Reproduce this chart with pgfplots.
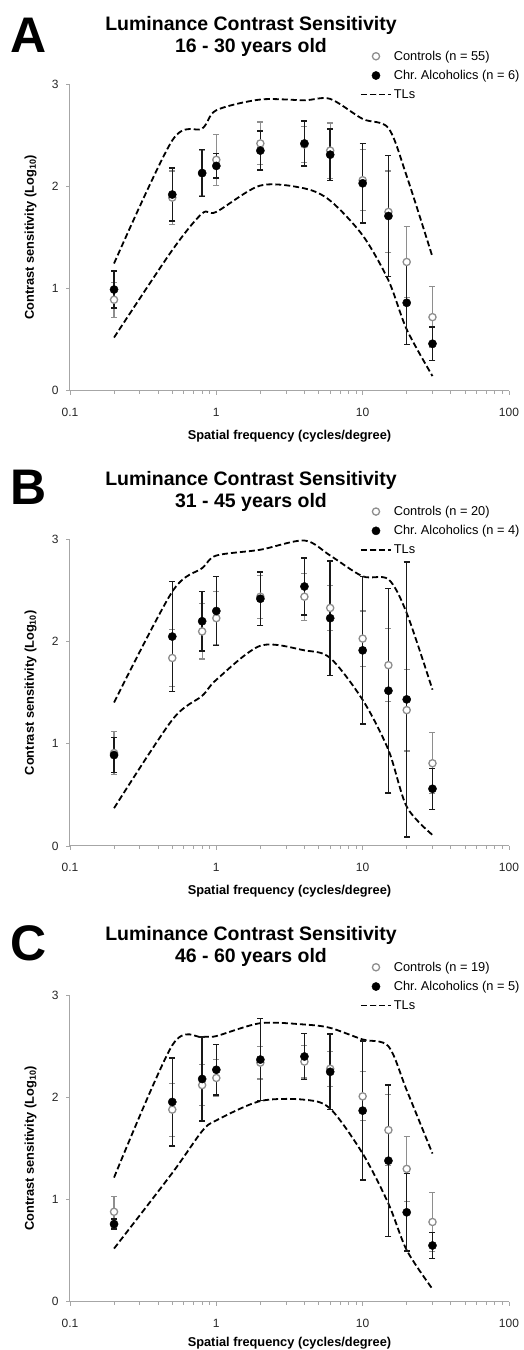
\documentclass[border=0pt]{standalone}
\usepackage{fontspec}
\setmainfont{Liberation Sans}
\usepackage{pgfplots}
\usepackage{pgfplotstable}
\pgfplotsset{compat=1.18}

\definecolor{ctrlgray}{HTML}{8E8E8E}
\definecolor{axgray}{HTML}{A6A6A6}

\pgfplotstableread{
x c ce a ae up lo
0.2 0.89 0.17 0.99 0.18 1.245 0.52
0.5 1.89 0.26 1.92 0.26 2.45 1.376
0.8 2.13 0.22 2.13 0.23 2.566 1.735
1 2.26 0.25 2.20 0.12 2.745 1.75
2 2.42 0.21 2.35 0.19 2.85 2.008
4 2.41 0.18 2.42 0.22 2.843 1.98
6 2.35 0.27 2.31 0.25 2.856 1.86
10 2.06 0.30 2.03 0.39 2.66 1.52
15 1.75 0.40 1.71 0.59 2.57 1.08
20 1.26 0.35 0.86 0.41 2.1 0.6
30 0.72 0.30 0.46 0.165 1.31 0.143
}\dataA

\pgfplotstableread{
x c ce a ae up lo
0.2 0.91 0.21 0.89 0.17 1.405 0.37
0.5 1.84 0.28 2.05 0.54 2.49 1.235
0.8 2.10 0.27 2.20 0.29 2.72 1.47
1 2.23 0.26 2.30 0.34 2.843 1.627
2 2.44 0.21 2.42 0.26 2.90 1.96
4 2.44 0.23 2.54 0.28 2.99 1.915
6 2.33 0.22 2.23 0.56 2.843 1.84
10 2.03 0.27 1.915 0.72 2.64 1.43
15 1.77 0.36 1.52 1.0 2.61 0.94
20 1.33 0.40 1.435 1.345 2.28 0.385
30 0.81 0.30 0.56 0.20 1.53 0.108
}\dataB

\pgfplotstableread{
x c ce a ae up lo
0.2 0.88 0.15 0.76 0.05 1.215 0.52
0.5 1.88 0.26 1.955 0.43 2.51 1.26
0.8 2.12 0.20 2.18 0.41 2.59 1.67
1 2.19 0.18 2.27 0.245 2.60 1.775
2 2.34 0.16 2.37 0.40 2.726 1.964
4 2.35 0.16 2.40 0.225 2.713 1.977
6 2.28 0.17 2.25 0.37 2.68 1.89
10 2.01 0.24 1.87 0.68 2.567 1.45
15 1.68 0.35 1.38 0.74 2.50 0.96
20 1.30 0.32 0.875 0.38 2.07 0.505
30 0.78 0.29 0.55 0.13 1.45 0.124
}\dataC

\begin{document}
\begin{tikzpicture}
  \useasboundingbox (0pt,0pt) rectangle (524pt,1350pt);

  % ================= Panel A
  \begin{axis}[at={(70pt,959.3pt)}, anchor=south west,
    scale only axis, width=439pt, height=306.5pt,
    xmode=log, xmin=0.1, xmax=100, ymin=0, ymax=3,
    axis lines=left, axis line style={-, draw=axgray, line width=1pt},
    tick style={draw=axgray, line width=0.8pt},
    tick align=outside, major tick length=4pt, minor tick length=3pt,
    xtick={0.1,1,10,100}, xticklabels={0.1,1,10,100},
    minor xtick={0.2,0.3,0.4,0.5,0.6,0.7,0.8,0.9,2,3,4,5,6,7,8,9,20,30,40,50,60,70,80,90},
    ytick={0,1,2,3}, yticklabels={0,1,2,3},
    tick label style={font=\fontsize{12}{14}\selectfont, text=black!85},
    xticklabel style={yshift=-10pt},
    yticklabel style={xshift=-4pt},
    xlabel={Spatial frequency (cycles/degree)},
    ylabel={Contrast sensitivity (Log\textsubscript{10})},
    label style={font=\fontsize{12.8}{15}\selectfont\bfseries},
    xlabel style={at={(axis description cs:0.5,-0.147)}, anchor=center},
    ylabel style={at={(axis description cs:-0.09,0.5)}, anchor=center},
    clip=false,
    legend cell align=left,
    legend image code/.code={\draw[mark repeat=2,mark phase=2,#1] plot coordinates {(0pt,0pt) (15pt,0pt) (30pt,0pt)};},
    legend style={draw=none, fill=none, at={(axis description cs:0.6535,1.1224)}, anchor=north west,
      row sep=4.5pt, font=\fontsize{12.8}{15}\selectfont},
    ]
    \addplot[forget plot, black, line width=1.8pt, dash pattern=on 6pt off 3pt, smooth] table[x=x, y=up] {\dataA};
    \addplot[forget plot, black, line width=1.8pt, dash pattern=on 6pt off 3pt, smooth] table[x=x, y=lo] {\dataA};
    \addplot[only marks, mark=*, mark size=3.6pt, mark options={draw=ctrlgray, fill=white, line width=1.3pt},
      error bars/.cd, y dir=both, y explicit,
      error bar style={ctrlgray, line width=1.1pt},
      error mark options={rotate=90, ctrlgray, mark size=3pt, line width=1.1pt}]
      table[x=x, y=c, y error=ce] {\dataA};
    \addlegendentry{Controls (n = 55)}
    \addplot[only marks, mark=*, mark size=4.1pt, mark options={draw=black, fill=black},
      error bars/.cd, y dir=both, y explicit,
      error bar style={black!90, line width=1.5pt},
      error mark options={rotate=90, black!90, mark size=3pt, line width=1.4pt}]
      table[x=x, y=a, y error=ae] {\dataA};
    \addlegendentry{Chr.\ Alcoholics (n = 6)}
    \addlegendimage{black, line width=1.8pt, dash pattern=on 6pt off 3pt}
    \addlegendentry{TLs}
  \end{axis}
  \node[font=\fontsize{19.5}{22}\selectfont\bfseries, anchor=base] at (251pt,1319.3pt) {Luminance Contrast Sensitivity};
  \node[font=\fontsize{19.5}{22}\selectfont\bfseries, anchor=base] at (251pt,1297.3pt) {16 - 30 years old};
  \node[font=\fontsize{50}{50}\selectfont\bfseries, anchor=base, inner sep=0pt] at (29pt,1297.3pt) {A};

  % ================= Panel B
  \begin{axis}[at={(70pt,504pt)}, anchor=south west,
    scale only axis, width=439pt, height=306.5pt,
    xmode=log, xmin=0.1, xmax=100, ymin=0, ymax=3,
    axis lines=left, axis line style={-, draw=axgray, line width=1pt},
    tick style={draw=axgray, line width=0.8pt},
    tick align=outside, major tick length=4pt, minor tick length=3pt,
    xtick={0.1,1,10,100}, xticklabels={0.1,1,10,100},
    minor xtick={0.2,0.3,0.4,0.5,0.6,0.7,0.8,0.9,2,3,4,5,6,7,8,9,20,30,40,50,60,70,80,90},
    ytick={0,1,2,3}, yticklabels={0,1,2,3},
    tick label style={font=\fontsize{12}{14}\selectfont, text=black!85},
    xticklabel style={yshift=-10pt},
    yticklabel style={xshift=-4pt},
    xlabel={Spatial frequency (cycles/degree)},
    ylabel={Contrast sensitivity (Log\textsubscript{10})},
    label style={font=\fontsize{12.8}{15}\selectfont\bfseries},
    xlabel style={at={(axis description cs:0.5,-0.147)}, anchor=center},
    ylabel style={at={(axis description cs:-0.09,0.5)}, anchor=center},
    clip=false,
    legend cell align=left,
    legend image code/.code={\draw[mark repeat=2,mark phase=2,#1] plot coordinates {(0pt,0pt) (15pt,0pt) (30pt,0pt)};},
    legend style={draw=none, fill=none, at={(axis description cs:0.6535,1.1224)}, anchor=north west,
      row sep=4.5pt, font=\fontsize{12.8}{15}\selectfont},
    ]
    \addplot[forget plot, black, line width=1.8pt, dash pattern=on 6pt off 3pt, smooth] table[x=x, y=up] {\dataB};
    \addplot[forget plot, black, line width=1.8pt, dash pattern=on 6pt off 3pt, smooth] table[x=x, y=lo] {\dataB};
    \addplot[only marks, mark=*, mark size=3.6pt, mark options={draw=ctrlgray, fill=white, line width=1.3pt},
      error bars/.cd, y dir=both, y explicit,
      error bar style={ctrlgray, line width=1.1pt},
      error mark options={rotate=90, ctrlgray, mark size=3pt, line width=1.1pt}]
      table[x=x, y=c, y error=ce] {\dataB};
    \addlegendentry{Controls (n = 20)}
    \addplot[only marks, mark=*, mark size=4.1pt, mark options={draw=black, fill=black},
      error bars/.cd, y dir=both, y explicit,
      error bar style={black!90, line width=1.5pt},
      error mark options={rotate=90, black!90, mark size=3pt, line width=1.4pt}]
      table[x=x, y=a, y error=ae] {\dataB};
    \addlegendentry{Chr.\ Alcoholics (n = 4)}
    \addlegendimage{black, line width=1.8pt, dash pattern=on 6pt off 3pt}
    \addlegendentry{TLs}
  \end{axis}
  \node[font=\fontsize{19.5}{22}\selectfont\bfseries, anchor=base] at (251pt,864.3pt) {Luminance Contrast Sensitivity};
  \node[font=\fontsize{19.5}{22}\selectfont\bfseries, anchor=base] at (251pt,842.3pt) {31 - 45 years old};
  \node[font=\fontsize{50}{50}\selectfont\bfseries, anchor=base, inner sep=0pt] at (28.5pt,845pt) {B};

  % ================= Panel C
  \begin{axis}[at={(70pt,48.3pt)}, anchor=south west,
    scale only axis, width=439pt, height=306.5pt,
    xmode=log, xmin=0.1, xmax=100, ymin=0, ymax=3,
    axis lines=left, axis line style={-, draw=axgray, line width=1pt},
    tick style={draw=axgray, line width=0.8pt},
    tick align=outside, major tick length=4pt, minor tick length=3pt,
    xtick={0.1,1,10,100}, xticklabels={0.1,1,10,100},
    minor xtick={0.2,0.3,0.4,0.5,0.6,0.7,0.8,0.9,2,3,4,5,6,7,8,9,20,30,40,50,60,70,80,90},
    ytick={0,1,2,3}, yticklabels={0,1,2,3},
    tick label style={font=\fontsize{12}{14}\selectfont, text=black!85},
    xticklabel style={yshift=-10pt},
    yticklabel style={xshift=-4pt},
    xlabel={Spatial frequency (cycles/degree)},
    ylabel={Contrast sensitivity (Log\textsubscript{10})},
    label style={font=\fontsize{12.8}{15}\selectfont\bfseries},
    xlabel style={at={(axis description cs:0.5,-0.136)}, anchor=center},
    ylabel style={at={(axis description cs:-0.09,0.5)}, anchor=center},
    clip=false,
    legend cell align=left,
    legend image code/.code={\draw[mark repeat=2,mark phase=2,#1] plot coordinates {(0pt,0pt) (15pt,0pt) (30pt,0pt)};},
    legend style={draw=none, fill=none, at={(axis description cs:0.6535,1.1224)}, anchor=north west,
      row sep=4.5pt, font=\fontsize{12.8}{15}\selectfont},
    ]
    \addplot[forget plot, black, line width=1.8pt, dash pattern=on 6pt off 3pt, smooth] table[x=x, y=up] {\dataC};
    \addplot[forget plot, black, line width=1.8pt, dash pattern=on 6pt off 3pt, smooth] table[x=x, y=lo] {\dataC};
    \addplot[only marks, mark=*, mark size=3.6pt, mark options={draw=ctrlgray, fill=white, line width=1.3pt},
      error bars/.cd, y dir=both, y explicit,
      error bar style={ctrlgray, line width=1.1pt},
      error mark options={rotate=90, ctrlgray, mark size=3pt, line width=1.1pt}]
      table[x=x, y=c, y error=ce] {\dataC};
    \addlegendentry{Controls (n = 19)}
    \addplot[only marks, mark=*, mark size=4.1pt, mark options={draw=black, fill=black},
      error bars/.cd, y dir=both, y explicit,
      error bar style={black!90, line width=1.5pt},
      error mark options={rotate=90, black!90, mark size=3pt, line width=1.4pt}]
      table[x=x, y=a, y error=ae] {\dataC};
    \addlegendentry{Chr.\ Alcoholics (n = 5)}
    \addlegendimage{black, line width=1.8pt, dash pattern=on 6pt off 3pt}
    \addlegendentry{TLs}
  \end{axis}
  \node[font=\fontsize{19.5}{22}\selectfont\bfseries, anchor=base] at (251pt,409.3pt) {Luminance Contrast Sensitivity};
  \node[font=\fontsize{19.5}{22}\selectfont\bfseries, anchor=base] at (251pt,387.3pt) {46 - 60 years old};
  \node[font=\fontsize{50}{50}\selectfont\bfseries, anchor=base, inner sep=0pt] at (28.5pt,389pt) {C};
\end{tikzpicture}
\end{document}
